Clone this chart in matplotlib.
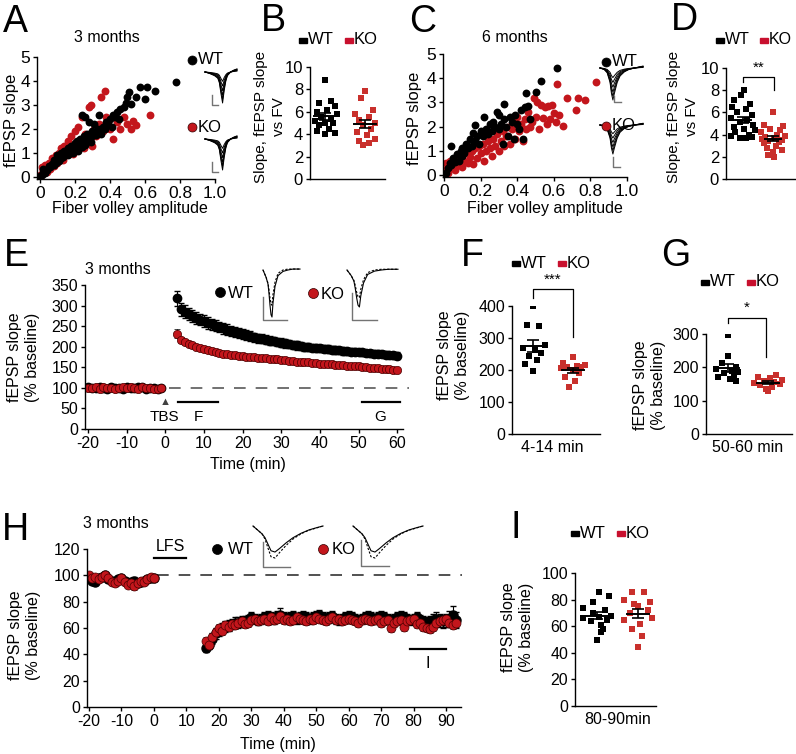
import matplotlib.pyplot as plt
from matplotlib.patches import Rectangle
from matplotlib.lines import Line2D
import numpy as np

plt.rcParams['font.family'] = ['Liberation Sans', 'DejaVu Sans']
plt.rcParams['axes.unicode_minus'] = False
plt.rcParams['axes.linewidth'] = 1.0

RED = '#c3161c'
RED_SQ = '#c9302c'
W, H = 796, 754

# ---------------- data ----------------
# A: 3 months input/output (fiber volley, fEPSP slope)
A_wt_x = [0.00, 0.01, 0.02, 0.03, 0.02, 0.04, 0.05, 0.06, 0.07, 0.08, 0.08, 0.09, 0.10, 0.10, 0.11,
          0.12, 0.12, 0.13, 0.14, 0.14, 0.15, 0.16, 0.16, 0.17, 0.18, 0.18, 0.19, 0.20, 0.20, 0.21,
          0.22, 0.22, 0.23, 0.24, 0.24, 0.24, 0.25, 0.25, 0.26, 0.26, 0.27, 0.27, 0.28, 0.28, 0.29,
          0.30, 0.30, 0.31, 0.32, 0.33, 0.33, 0.34, 0.35, 0.36, 0.37, 0.38, 0.39, 0.40, 0.41, 0.42,
          0.43, 0.44, 0.45, 0.46, 0.48, 0.49, 0.50, 0.51, 0.52, 0.55, 0.57, 0.60, 0.61, 0.66, 0.78]
A_wt_y = [0.05, 0.10, 0.20, 0.15, 0.35, 0.30, 0.45, 0.40, 0.55, 0.50, 0.70, 0.60, 0.75, 0.90, 0.65,
          0.80, 1.00, 0.85, 0.95, 1.10, 1.00, 1.20, 0.90, 1.05, 1.30, 1.15, 1.00, 1.40, 1.20, 1.50,
          1.30, 1.10, 1.60, 1.40, 1.25, 2.60, 1.70, 1.50, 1.35, 2.50, 1.80, 1.55, 2.30, 1.60, 1.45,
          1.90, 1.70, 2.20, 1.75, 2.00, 1.90, 2.60, 1.80, 2.10, 2.00, 2.30, 2.20, 2.40, 2.10, 2.60,
          2.50, 2.70, 2.40, 2.85, 2.90, 3.10, 3.35, 3.55, 3.05, 3.35, 3.75, 3.25, 3.75, 3.60, 3.97]
A_ko_x = [0.00, 0.01, 0.02, 0.03, 0.04, 0.05, 0.06, 0.07, 0.08, 0.09, 0.10, 0.11, 0.12, 0.13, 0.14,
          0.15, 0.16, 0.17, 0.18, 0.19, 0.20, 0.21, 0.22, 0.23, 0.24, 0.25, 0.26, 0.27, 0.28, 0.29,
          0.30, 0.31, 0.32, 0.34, 0.35, 0.36, 0.37, 0.38, 0.40, 0.42, 0.44, 0.46, 0.48, 0.50, 0.52,
          0.53, 0.55, 0.63]
A_ko_y = [0.10, 0.40, 0.30, 0.50, 0.20, 0.60, 0.35, 0.80, 0.45, 0.90, 0.60, 1.00, 1.20, 0.70, 1.30,
          0.90, 1.50, 1.10, 1.70, 0.95, 1.90, 1.20, 2.10, 1.40, 2.50, 1.20, 1.80, 1.50, 2.90, 3.00,
          1.30, 2.00, 1.70, 2.20, 3.35, 1.90, 3.60, 2.50, 2.00, 1.60, 2.30, 2.00, 2.50, 2.20, 2.00,
          2.35, 2.15, 2.60]

# C: 6 months input/output
C_wt_x = [0.00, 0.01, 0.02, 0.03, 0.04, 0.04, 0.05, 0.06, 0.07, 0.08, 0.09, 0.10, 0.10, 0.11, 0.12,
          0.13, 0.14, 0.15, 0.16, 0.17, 0.17, 0.18, 0.19, 0.20, 0.21, 0.22, 0.23, 0.24, 0.25, 0.26,
          0.27, 0.28, 0.29, 0.30, 0.30, 0.31, 0.32, 0.33, 0.33, 0.34, 0.35, 0.36, 0.37, 0.38, 0.39,
          0.40, 0.41, 0.42, 0.43, 0.44, 0.45, 0.46, 0.47, 0.50, 0.53, 0.62]
C_wt_y = [0.00, 0.10, 0.30, 0.50, 1.20, 0.40, 0.70, 0.55, 0.85, 0.60, 1.00, 0.80, 1.10, 0.90, 1.30,
          1.10, 1.50, 1.20, 1.75, 2.07, 1.40, 1.60, 1.30, 1.80, 1.60, 2.40, 1.90, 1.70, 2.10, 1.80,
          2.20, 2.00, 2.60, 1.90, 2.50, 2.10, 1.30, 2.93, 2.30, 2.00, 1.60, 2.40, 2.20, 1.50, 2.50,
          2.10, 1.90, 2.70, 1.50, 2.82, 3.40, 2.85, 2.30, 3.44, 3.88, 4.41]
C_ko_x = [0.00, 0.01, 0.02, 0.03, 0.04, 0.05, 0.06, 0.07, 0.08, 0.09, 0.10, 0.11, 0.12, 0.13, 0.14,
          0.15, 0.16, 0.17, 0.18, 0.19, 0.20, 0.21, 0.22, 0.23, 0.24, 0.25, 0.26, 0.27, 0.28, 0.29,
          0.30, 0.31, 0.32, 0.33, 0.34, 0.35, 0.36, 0.37, 0.38, 0.39, 0.40, 0.41, 0.42, 0.43, 0.44,
          0.45, 0.46, 0.47, 0.48, 0.49, 0.50, 0.51, 0.52, 0.53, 0.54, 0.55, 0.56, 0.57, 0.58, 0.59,
          0.60, 0.61, 0.62, 0.63, 0.65, 0.67, 0.72, 0.73, 0.77, 0.83]
C_ko_y = [0.20, 0.50, 0.10, 0.60, 0.30, 0.45, 0.20, 0.70, 0.40, 0.80, 0.35, 0.60, 0.90, 0.50, 0.75,
          1.00, 0.45, 1.10, 0.70, 1.20, 0.90, 1.30, 0.60, 1.00, 1.40, 1.10, 0.80, 1.50, 1.20, 1.70,
          1.00, 1.40, 1.80, 1.20, 1.60, 2.00, 1.30, 1.90, 2.20, 1.50, 2.40, 1.80, 2.10, 1.40, 2.30,
          1.90, 2.60, 2.00, 2.20, 3.20, 2.40, 3.00, 1.90, 2.90, 2.35, 2.80, 2.10, 2.85, 2.30, 2.90,
          2.55, 2.20, 3.75, 2.50, 2.02, 3.17, 2.69, 3.20, 3.10, 3.86]

# B, D: slope fEPSP vs FV per slice
B_wt = [8.8, 7.0, 6.8, 6.5, 6.2, 6.0, 5.8, 5.5, 5.4, 5.2, 5.0, 5.0, 4.8, 4.5, 4.3, 4.1, 4.0]
B_wt_dx = [0.0, 0.15, -0.15, 0.25, 0.05, -0.2, 0.3, -0.1, 0.15, -0.25, 0.0, 0.2, -0.15, 0.1, -0.2, 0.25, 0.0]
B_ko = [7.9, 7.2, 6.2, 5.8, 5.5, 5.3, 5.0, 4.8, 4.5, 4.2, 3.9, 3.6, 3.4, 3.2, 3.0]
B_ko_dx = [0.0, -0.1, 0.2, -0.25, 0.1, -0.15, 0.25, -0.05, 0.15, -0.2, 0.05, 0.25, -0.15, 0.1, -0.05]
D_wt = [8.0, 7.6, 7.1, 6.8, 6.5, 6.3, 6.0, 5.8, 5.5, 5.3, 5.1, 4.9, 4.7, 4.5, 4.4, 4.2, 4.0, 3.9, 3.8, 3.7, 3.7]
D_wt_dx = [0.05, -0.05, -0.3, 0.25, -0.35, 0.1, -0.2, 0.3, -0.4, 0.15, -0.1, 0.35, -0.3, 0.05, 0.4,
           -0.25, 0.2, -0.4, 0.3, -0.1, 0.1]
D_ko = [6.0, 4.9, 4.8, 4.5, 4.4, 4.2, 4.0, 3.9, 3.8, 3.7, 3.6, 3.5, 3.4, 3.3, 3.2, 3.0, 2.8, 2.6, 2.4, 2.2, 2.0]
D_ko_dx = [0.0, -0.3, 0.35, -0.1, 0.25, -0.4, 0.15, 0.4, -0.25, 0.05, -0.35, 0.3, -0.15, 0.2, -0.3,
           0.1, -0.2, 0.3, 0.0, -0.15, 0.05]

# E: LTP time course (% baseline)
E_t_base = np.arange(-20, 0)
E_wt_base = [101, 100, 99, 102, 100, 98, 101, 99, 100, 97, 102, 100, 99, 101, 103, 98, 100, 99, 97, 100]
E_ko_base = [99, 100, 102, 98, 101, 100, 99, 97, 100, 101, 99, 102, 100, 98, 101, 99, 100, 97, 98, 99]
E_base_err = [3, 3, 4, 3, 3, 3, 4, 3, 3, 3, 4, 3, 3, 3, 4, 3, 3, 3, 3, 3]
E_t_post = np.arange(3, 61)
E_wt_post = [318, 291, 285, 279, 274, 270, 266, 262, 258, 254, 251, 248, 245, 241, 238, 236, 233, 230,
             228, 226, 223, 221, 219, 217, 215, 213, 211, 210, 208, 206, 205, 203, 201, 200, 199, 198,
             197, 196, 195, 194, 193, 192, 191, 190, 189, 188, 188, 187, 186, 185, 184, 183, 183, 182,
             181, 180, 179, 178]
E_wt_err = [18, 16, 16, 15, 15, 15, 14, 14, 14, 14, 13, 13, 13, 13, 12, 12, 12, 12, 12, 11,
            11, 11, 11, 11, 11, 10, 10, 10, 10, 10, 10, 10, 10, 10, 9, 9, 9, 9, 9, 9,
            9, 9, 9, 9, 8, 8, 8, 8, 8, 8, 8, 8, 8, 8, 8, 8, 8, 8]
E_ko_post = [232, 216, 211, 207, 204, 200, 197, 194, 192, 189, 187, 185, 183, 182, 180, 179, 178, 177,
             176, 175, 174, 173, 172, 172, 171, 170, 169, 168, 167, 166, 165, 164, 163, 162, 162, 161,
             160, 159, 159, 158, 157, 156, 155, 155, 154, 153, 152, 152, 151, 150, 149, 148, 148, 147,
             146, 145, 144, 143]
E_ko_err = [10, 7, 6, 6, 6, 5, 5, 5, 5, 5, 5, 5, 5, 5, 5, 5, 5, 5, 5, 5,
            5, 5, 5, 5, 5, 5, 5, 5, 5, 5, 5, 5, 5, 5, 5, 5, 5, 5, 5, 5,
            5, 5, 5, 5, 5, 5, 5, 5, 5, 5, 5, 5, 5, 5, 5, 5, 5, 5]

# F, G: averaged potentiation per slice
F_wt = [400, 342, 337, 278, 270, 262, 252, 243, 232, 218, 197]
F_wt_dx = [0.0, -0.15, 0.15, 0.3, -0.25, 0.05, 0.2, -0.1, 0.1, -0.2, 0.0]
F_ko = [240, 222, 215, 212, 210, 208, 205, 200, 190, 178, 165, 148]
F_ko_dx = [0.0, -0.25, 0.3, 0.1, -0.15, 0.2, -0.3, 0.0, 0.15, -0.2, 0.05, -0.1]
G_wt = [298, 235, 212, 202, 196, 190, 186, 182, 176, 170, 165, 160]
G_wt_dx = [0.0, 0.0, -0.15, 0.2, -0.3, 0.1, 0.25, -0.1, 0.15, -0.25, 0.05, 0.2]
G_ko = [178, 172, 168, 163, 160, 157, 154, 150, 146, 142, 135, 128]
G_ko_dx = [0.2, -0.25, 0.05, 0.35, -0.1, 0.15, -0.35, 0.3, -0.2, 0.1, -0.05, 0.0]

# H: LTD time course
H_t_base = np.arange(-20, 1)
H_wt_base = [99, 96, 95, 98, 99, 100, 97, 96, 95, 97, 98, 96, 94, 95, 96, 94, 95, 96, 97, 98, 98]
H_ko_base = [100, 98, 99, 97, 99, 100, 98, 95, 94, 96, 98, 95, 93, 94, 92, 94, 96, 95, 97, 99, 98]
H_base_err = [2, 2, 2, 2, 2, 2, 2, 2, 2, 2, 2, 2, 2, 2, 3, 2, 2, 2, 2, 2, 2]
H_t_post = np.arange(16, 94)
H_wt_post = [45, 47, 52, 56, 58, 60, 61, 62, 63, 64, 64, 65, 65, 66, 68, 67, 66, 67, 68, 69,
             68, 67, 69, 70, 68, 67, 68, 69, 67, 68, 69, 68, 67, 68, 69, 70, 68, 67, 68, 69,
             67, 66, 67, 68, 69, 68, 67, 66, 67, 68, 69, 68, 67, 68, 69, 68, 67, 66, 67, 68,
             69, 68, 67, 66, 67, 68, 66, 65, 64, 65, 66, 67, 66, 65, 66, 67, 70, 66]
H_wt_err = [3, 3, 4, 4, 4, 4, 4, 4, 4, 4, 4, 4, 4, 4, 4, 4, 4, 4, 4, 4,
            4, 4, 4, 5, 4, 4, 4, 4, 4, 4, 4, 4, 4, 4, 4, 4, 4, 4, 4, 4,
            4, 4, 4, 4, 4, 4, 4, 4, 4, 4, 4, 4, 4, 4, 4, 4, 4, 4, 4, 4,
            4, 4, 4, 4, 4, 4, 4, 4, 4, 4, 5, 5, 5, 5, 5, 6, 7, 6]
H_ko_post = [50, 47, 53, 57, 60, 58, 62, 61, 63, 62, 64, 65, 63, 64, 66, 67, 65, 66, 67, 65,
             68, 66, 67, 69, 66, 67, 65, 66, 68, 67, 66, 65, 67, 66, 68, 67, 66, 65, 67, 68,
             66, 67, 65, 66, 67, 66, 65, 64, 66, 67, 66, 65, 66, 67, 64, 65, 66, 60, 64, 65,
             66, 61, 65, 66, 67, 63, 64, 61, 60, 59, 61, 64, 65, 66, 67, 64, 62, 64]
H_ko_err = [3, 3, 3, 3, 3, 3, 3, 3, 3, 3, 3, 3, 3, 3, 3, 3, 3, 3, 3, 3,
            3, 3, 3, 3, 3, 3, 3, 3, 3, 3, 3, 3, 3, 3, 3, 3, 3, 3, 3, 3,
            3, 3, 3, 3, 3, 3, 3, 3, 3, 3, 3, 3, 3, 3, 3, 3, 3, 3, 3, 3,
            3, 3, 3, 3, 3, 3, 3, 3, 3, 3, 3, 3, 3, 3, 3, 3, 3, 3]

# I: LTD magnitude per slice
I_wt = [86, 83, 78, 74, 72, 70, 68, 67, 66, 65, 64, 61, 58, 56, 50]
I_wt_dx = [0.05, 0.3, -0.1, -0.35, 0.2, -0.1, 0.35, 0.05, -0.35, 0.25, -0.15, 0.1, 0.15, 0.1, 0.0]
I_ko = [86, 86, 80, 78, 77, 75, 72, 70, 66, 65, 62, 58, 53, 44]
I_ko_dx = [-0.15, 0.15, -0.35, 0.3, -0.1, 0.0, 0.25, -0.2, 0.35, -0.35, 0.05, -0.15, 0.1, 0.0]

# example traces (normalised)
A_tr_t = [0, 3, 6, 8, 9, 10, 11, 12, 13, 14, 16, 18, 20]
A_tr = [0, -0.05, -0.12, -0.2, -0.35, -0.7, -1.0, -0.6, -0.3, -0.12, 0.0, 0.06, 0.1]
A_amps = [0.3, 0.45, 0.6, 0.75, 0.88, 1.0]
C_tr_t = [0, 3, 5, 7, 8, 9, 10, 12, 14, 17, 20, 24, 27, 30]
C_tr = [0, -0.05, -0.15, -0.45, -0.8, -1.0, -0.8, -0.45, -0.25, -0.12, -0.05, 0.0, 0.03, 0.06]
E_tr_t = [0, 3, 5, 6, 7, 8, 9, 10, 12, 15, 20, 25, 30, 37]
E_tr_pre = [0, -0.15, -0.28, -0.42, -0.6, -0.72, -0.75, -0.52, -0.26, -0.07, 0.0, 0.02, 0.02, 0.02]
E_tr_post = [0, -0.15, -0.3, -0.5, -0.75, -0.95, -1.0, -0.7, -0.35, -0.12, -0.03, 0.0, 0.02, 0.02]
H_tr_t = [0, 3, 6, 9, 12, 15, 18, 22, 27, 33, 40, 48, 56, 64, 70]
H_tr_pre = [0, -0.1, -0.2, -0.3, -0.5, -0.85, -1.18, -1.23, -1.0, -0.75, -0.5, -0.3, -0.16, -0.07, 0.0]
H_tr_post = [0, -0.1, -0.2, -0.3, -0.45, -0.7, -0.95, -1.0, -0.85, -0.65, -0.45, -0.28, -0.15, -0.06, 0.0]

# ---------------- figure ----------------
fig = plt.figure(figsize=(W / 100, H / 100), dpi=100)


def add_ax(x0, y0, x1, y1, fs=11):
    ax = fig.add_axes([x0 / W, 1 - y1 / H, (x1 - x0) / W, (y1 - y0) / H])
    ax.spines[['top', 'right']].set_visible(False)
    ax.tick_params(direction='out', length=3, width=1, labelsize=fs, pad=2)
    return ax


def ftext(x, y, s, **kw):
    kw.setdefault('ha', 'center')
    kw.setdefault('va', 'center')
    return fig.text(x / W, 1 - y / H, s, **kw)


def fdot(x, y, color, size=9):
    fig.add_artist(Line2D([x / W], [1 - y / H], marker='o', ms=size * 0.72, color=color,
                          mec='#300000' if color != 'black' else 'black', mew=0.5,
                          transform=fig.transFigure))


def fbar(x, y, color):
    fig.add_artist(Rectangle(((x - 4) / W, 1 - (y + 2.5) / H), 8 / W, 5 / H,
                             color=color, transform=fig.transFigure))


def sq_legend(x, y, fs=12, gap=46):
    fbar(x, y, 'black')
    ftext(x + 5, y, 'WT', ha='left', fontsize=fs)
    fbar(x + gap, y, '#c8102e')
    ftext(x + gap + 5, y, 'KO', ha='left', fontsize=fs)


def dotplot(ax, wt, wt_dx, ko, ko_dx):
    ax.scatter(1 + np.array(wt_dx), wt, marker='s', s=22, color='black', linewidths=0, zorder=2)
    ax.scatter(2 + np.array(ko_dx), ko, marker='s', s=22, color=RED_SQ, linewidths=0, zorder=2)
    for x, v in ((1, wt), (2, ko)):
        m = np.mean(v)
        se = np.std(v, ddof=1) / np.sqrt(len(v))
        ax.errorbar([x], [m], yerr=[se], color='black', capsize=4, elinewidth=1.2,
                    capthick=1.2, zorder=3)
        ax.plot([x - 0.28, x + 0.28], [m, m], color='black', lw=1.4, zorder=3)
    ax.set_xticks([])


def bracket(ax, x1, x2, y1, ytop, y2, star, ystar):
    ax.plot([x1, x1, x2, x2], [y1, ytop, ytop, y2], color='black', lw=0.9, clip_on=False)
    ax.text((x1 + x2) / 2, ystar, star, ha='center', va='center', fontsize=11)


def trace_ax(x0, y0, x1, y1, xlim, ylim, t, curves, styles, bar):
    ax = fig.add_axes([x0 / W, 1 - y1 / H, (x1 - x0) / W, (y1 - y0) / H])
    ax.axis('off')
    for c, st in zip(curves, styles):
        ax.plot(t, c, **st)
    ax.set_xlim(*xlim)
    ax.set_ylim(*ylim)
    bx, by, bw, bh = bar
    ax.plot([bx, bx, bx + bw], [by + bh, by, by], transform=ax.transAxes,
            color='0.45', lw=1)
    return ax


# ---- A ----
ax = add_ax(37, 57, 215, 179, fs=12.5)
ax.scatter(A_ko_x, A_ko_y, s=32, color=RED, linewidths=0)
ax.scatter(A_wt_x, A_wt_y, s=32, color='black', linewidths=0)
ax.set_xlim(-0.017, 1.0)
ax.set_ylim(-0.08, 5.0)
ax.set_xticks([0, 0.2, 0.4, 0.6, 0.8, 1.0], ['0', '0.2', '0.4', '0.6', '0.8', '1.0'])
ax.set_yticks([0, 1, 2, 3, 4, 5])
ftext(130, 209, 'Fiber volley amplitude', fontsize=11.5)
ftext(12, 120, 'fEPSP slope', rotation=90, fontsize=12)
ftext(107, 38, '3 months', fontsize=11.5)
ftext(15, 22, 'A', fontsize=27)
fdot(192, 60, 'black')
ftext(198, 60, 'WT', ha='left', fontsize=12)
fdot(192, 127, RED)
ftext(198, 127, 'KO', ha='left', fontsize=12)
lines = [np.array(A_tr) * a for a in A_amps]
trace_ax(203, 64, 240, 108, (-1.25, 21.9), (-1.161, 0.258), A_tr_t, lines,
         [dict(color='black', lw=0.7)] * len(lines), (0.243, 0.068, 0.16, 0.227))
trace_ax(203, 131, 240, 175, (-1.25, 21.9), (-1.161, 0.258), A_tr_t, lines,
         [dict(color='black', lw=0.7)] * len(lines), (0.243, 0.068, 0.16, 0.227))

# ---- B ----
ax = add_ax(310, 67, 385, 179, fs=12)
dotplot(ax, B_wt, B_wt_dx, B_ko, B_ko_dx)
ax.set_xlim(0.625, 2.5)
ax.set_ylim(0, 10)
ax.set_yticks([0, 2, 4, 6, 8, 10])
ftext(270, 117, 'Slope, fEPSP slope\nvs FV', rotation=90, fontsize=11, linespacing=1.3)
ftext(273, 21, 'B', fontsize=27)
sq_legend(303, 40)

# ---- C ----
ax = add_ax(443, 54, 627, 177, fs=12.5)
ax.scatter(C_ko_x, C_ko_y, s=32, color=RED, linewidths=0)
ax.scatter(C_wt_x, C_wt_y, s=32, color='black', linewidths=0)
ax.set_xlim(-0.006, 1.0)
ax.set_ylim(-0.08, 5.0)
ax.set_xticks([0, 0.2, 0.4, 0.6, 0.8, 1.0], ['0', '0.2', '0.4', '0.6', '0.8', '1.0'])
ax.set_yticks([0, 1, 2, 3, 4, 5])
ftext(545, 209, 'Fiber volley amplitude', fontsize=11.5)
ftext(415, 118, 'fEPSP slope', rotation=90, fontsize=12)
ftext(515, 38, '6 months', fontsize=11.5)
ftext(423, 22, 'C', fontsize=27)
fdot(606, 62, 'black')
ftext(612, 62, 'WT', ha='left', fontsize=12)
fdot(606, 126, RED)
ftext(612, 126, 'KO', ha='left', fontsize=12)
lines_c = [np.array(C_tr) * a for a in A_amps]
trace_ax(598, 64, 648, 108, (-1.4, 33.5), (-1.25, 0.125), C_tr_t, lines_c,
         [dict(color='black', lw=0.7)] * len(lines_c), (0.32, 0.136, 0.14, 0.134))
trace_ax(598, 121, 648, 170, (-1.4, 33.5), (-1.55, 0.138), C_tr_t, lines_c,
         [dict(color='black', lw=0.7)] * len(lines_c), (0.30, 0.06, 0.14, 0.205))

# ---- D ----
ax = add_ax(726, 68, 796, 179, fs=12)
dotplot(ax, D_wt, D_wt_dx, D_ko, D_ko_dx)
ax.set_xlim(0.433, 2.77)
ax.set_ylim(0, 10)
ax.set_yticks([0, 2, 4, 6, 8, 10])
bracket(ax, 1.0, 2.05, 8.7, 9.2, 8.0, '**', 10.0)
ftext(683, 117, 'Slope, fEPSP slope\nvs FV', rotation=90, fontsize=11, linespacing=1.3)
ftext(684, 20, 'D', fontsize=27)
sq_legend(720, 40, fs=11.5, gap=44)

# ---- E ----
ax = add_ax(85, 285, 403, 429, fs=11.5)
ax.errorbar(E_t_base, E_wt_base, yerr=E_base_err, fmt='o', ms=6, color='black',
            ecolor='black', elinewidth=0.8, capsize=2)
ax.errorbar(E_t_post, E_wt_post, yerr=E_wt_err, fmt='o', ms=6, color='black',
            ecolor='black', elinewidth=0.8, capsize=2)
ax.errorbar(E_t_base, E_ko_base, yerr=E_base_err, fmt='o', ms=6, mfc=RED, mec='#4a0000',
            mew=0.5, ecolor='black', elinewidth=0.8, capsize=2)
ax.errorbar(E_t_post, E_ko_post, yerr=E_ko_err, fmt='o', ms=6, mfc=RED, mec='#4a0000',
            mew=0.5, ecolor='black', elinewidth=0.8, capsize=2)
ax.plot([1, 63], [100, 100], ls=(0, (7, 6)), color='0.35', lw=1.2, clip_on=False, zorder=0)
ax.set_xlim(-20.78, 61.5)
ax.set_ylim(0, 350)
ax.set_xticks(range(-20, 61, 10))
ax.set_yticks(range(0, 351, 50))
ax.text(0, 66, '▲', ha='center', va='center', fontsize=8, color='0.25')
ax.text(-0.3, 29, 'TBS', ha='center', va='center', fontsize=11)
ax.plot([3.3, 13.7], [66, 66], color='black', lw=1.6)
ax.text(8.5, 29, 'F', ha='center', va='center', fontsize=11)
ax.plot([51, 60.8], [66, 66], color='black', lw=1.6)
ax.text(55.6, 29, 'G', ha='center', va='center', fontsize=11)
ftext(248, 464, 'Time (min)', fontsize=11.5)
ftext(24, 357, 'fEPSP slope\n(% baseline)', rotation=90, fontsize=11.5, linespacing=1.25)
ftext(118, 269, '3 months', fontsize=11.5)
ftext(16, 256, 'E', fontsize=27)
fdot(220, 292, 'black', 10)
ftext(228, 293, 'WT', ha='left', fontsize=12)
fdot(313, 293, RED, 10)
ftext(321, 294, 'KO', ha='left', fontsize=12)
trace_ax(260, 266, 302, 322, (-3, 39), (-1.106, 0.085), E_tr_t, [E_tr_pre, E_tr_post],
         [dict(color='black', lw=0.8, ls=(0, (2, 1.5))), dict(color='black', lw=0.8)],
         (0.071, 0.036, 0.571, 0.41))
trace_ax(344, 266, 400, 322, (-2.18, 38.46), (-1.405, 0.108), E_tr_t, [E_tr_pre, E_tr_post],
         [dict(color='black', lw=0.8, ls=(0, (2, 1.5))), dict(color='black', lw=0.8)],
         (0.143, 0.036, 0.446, 0.482))

# ---- F ----
ax = add_ax(512, 306, 600, 434, fs=11.5)
dotplot(ax, F_wt, F_wt_dx, F_ko, F_ko_dx)
ax.set_xlim(0.475, 2.675)
ax.set_ylim(0, 400)
ax.set_yticks([0, 100, 200, 300, 400])
bracket(ax, 1.0, 2.0, 425, 453, 303, '***', 482)
ftext(552, 447, '4-14 min', fontsize=11.5)
ftext(453, 355, 'fEPSP slope\n(% baseline)', rotation=90, fontsize=11.5, linespacing=1.25)
ftext(472, 256, 'F', fontsize=27)
sq_legend(516, 263)

# ---- G ----
ax = add_ax(706, 334, 792, 434, fs=11.5)
dotplot(ax, G_wt, G_wt_dx, G_ko, G_ko_dx)
ax.set_xlim(0.45, 2.6)
ax.set_ylim(0, 300)
ax.set_yticks([0, 100, 200, 300])
bracket(ax, 1.0, 1.95, 334, 349, 230, '*', 379)
ftext(748, 447, '50-60 min', fontsize=11.5)
ftext(650, 385, 'fEPSP slope\n(% baseline)', rotation=90, fontsize=11.5, linespacing=1.25)
ftext(676, 256, 'G', fontsize=27)
sq_legend(705, 282)

# ---- H ----
ax = add_ax(87, 549, 461, 707, fs=11.5)
ax.errorbar(H_t_base, H_wt_base, yerr=H_base_err, fmt='o', ms=6.5, color='black',
            ecolor='black', elinewidth=0.8, capsize=2)
ax.errorbar(H_t_post, H_wt_post, yerr=H_wt_err, fmt='o', ms=6.5, color='black',
            ecolor='black', elinewidth=0.8, capsize=2)
ax.errorbar(H_t_base, H_ko_base, yerr=H_base_err, fmt='o', ms=6.5, mfc=RED, mec='#4a0000',
            mew=0.5, ecolor='black', elinewidth=0.8, capsize=2)
ax.errorbar(H_t_post, H_ko_post, yerr=H_ko_err, fmt='o', ms=6.5, mfc=RED, mec='#4a0000',
            mew=0.5, ecolor='black', elinewidth=0.8, capsize=2)
ax.plot([1, 95], [100, 100], ls=(0, (7, 6)), color='0.2', lw=1.2, clip_on=False, zorder=0)
ax.set_xlim(-20.6, 94.6)
ax.set_ylim(0, 120)
ax.set_xticks(range(-20, 91, 10))
ax.set_yticks(range(0, 121, 20))
ax.plot([0, 10], [113, 113], color='black', lw=1.6)
ax.text(5, 122, 'LFS', ha='center', va='center', fontsize=11.5, clip_on=False)
ax.plot([79, 90], [44, 44], color='black', lw=1.6)
ax.text(84.5, 33, 'I', ha='center', va='center', fontsize=11.5)
ftext(278, 745, 'Time (min)', fontsize=11.5)
ftext(25, 635, 'fEPSP slope\n(% baseline)', rotation=90, fontsize=11.5, linespacing=1.25)
ftext(116, 524, '3 months', fontsize=11.5)
ftext(15, 530, 'H', fontsize=27)
fdot(217, 549, 'black', 10)
ftext(228, 550, 'WT', ha='left', fontsize=12)
fdot(323, 549, RED, 10)
ftext(332, 550, 'KO', ha='left', fontsize=12)
trace_ax(250, 522, 326, 570, (-3, 73), (-1.69, 0.154), H_tr_t, [H_tr_pre, H_tr_post],
         [dict(color='black', lw=0.8, ls=(0, (2, 1.5))), dict(color='black', lw=0.8)],
         (0.171, 0.0625, 0.355, 0.52))
trace_ax(350, 522, 426, 570, (-3, 73), (-1.69, 0.154), H_tr_t, [H_tr_pre, H_tr_post],
         [dict(color='black', lw=0.8, ls=(0, (2, 1.5))), dict(color='black', lw=0.8)],
         (0.145, 0.083, 0.368, 0.54))

# ---- I ----
ax = add_ax(575, 573, 656, 706, fs=11.5)
dotplot(ax, I_wt, I_wt_dx, I_ko, I_ko_dx)
ax.set_xlim(0.463, 2.44)
ax.set_ylim(0, 100)
ax.set_yticks([0, 20, 40, 60, 80, 100])
ftext(618, 720, '80-90min', fontsize=11.5)
ftext(518, 627, 'fEPSP slope\n(% baseline)', rotation=90, fontsize=11.5, linespacing=1.25)
ftext(516, 528, 'I', fontsize=27)
sq_legend(575, 533)

fig.savefig('out.png', dpi=100)
